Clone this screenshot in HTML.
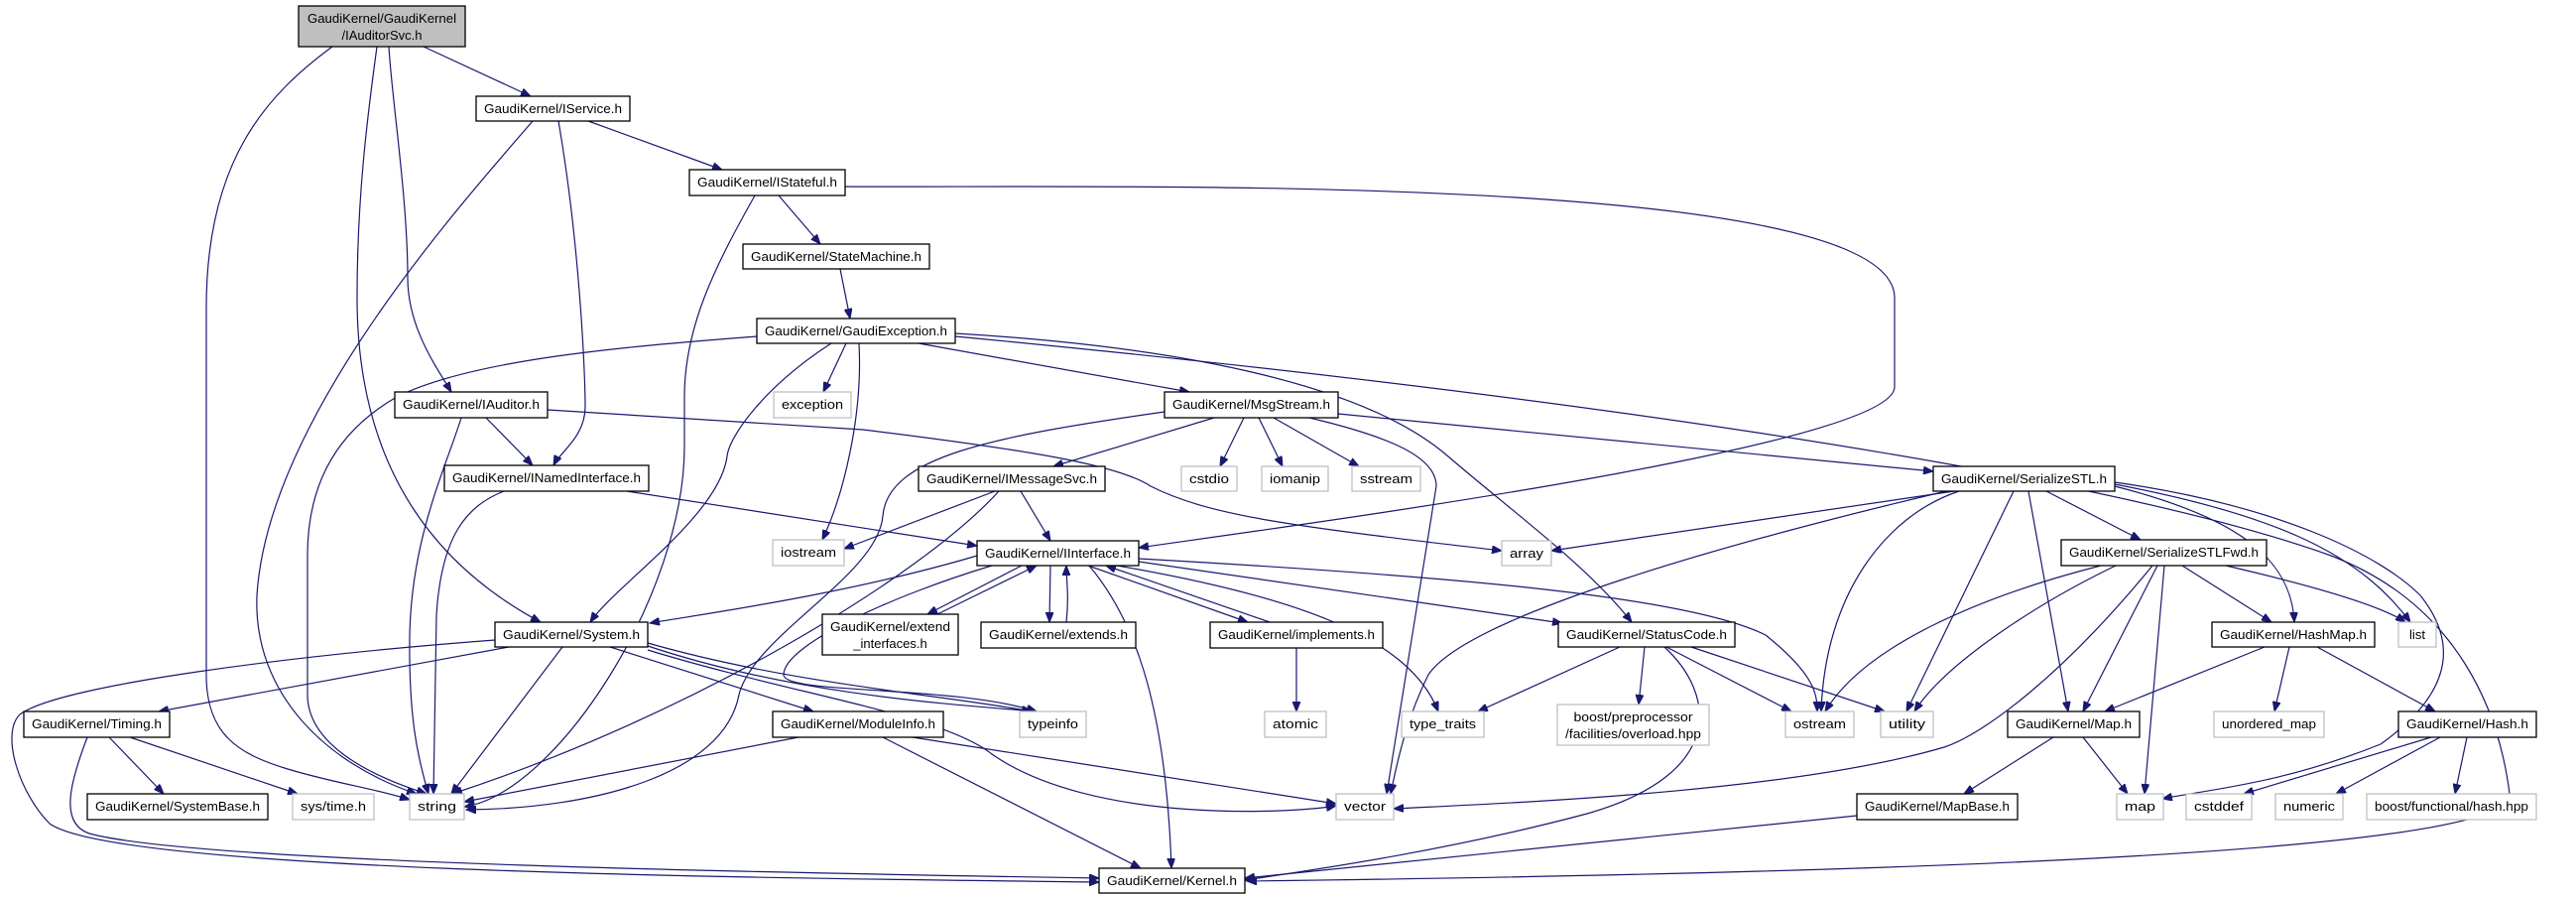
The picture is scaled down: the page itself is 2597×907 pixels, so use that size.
<!DOCTYPE html>
<html><head><meta charset="utf-8"><style>
html,body{margin:0;padding:0;background:#fff;}
svg{display:block;}
text{font-family:"Liberation Sans",sans-serif;font-size:13px;fill:#000;}
.n{fill:#fff;stroke:#000;stroke-width:1.3;}
.g{fill:#fff;stroke:#bfbfbf;stroke-width:1.3;}
.r{fill:#bfbfbf;stroke:#000;stroke-width:1.3;}
.e path{fill:none;stroke:#191970;stroke-width:1.2;marker-end:url(#a);}
</style></head><body>
<svg width="2597" height="907" viewBox="0 0 2597 907" xmlns="http://www.w3.org/2000/svg">
<defs><marker id="a" markerUnits="userSpaceOnUse" markerWidth="11" markerHeight="8" refX="10" refY="4" orient="auto"><path d="M0,0 L10,4 L0,8 z" fill="#191970" stroke="#191970"/></marker></defs>
<g class="e">
<path d="M427,47 L535,97"/>
<path d="M392,47 C395,100 411,200 411,280 C411,330 440,370 455,395"/>
<path d="M380,47 C370,120 360,200 360,300 C360,450 420,560 545,627"/>
<path d="M335,47 C270,95 208,160 208,310 L208,680 C208,740 240,760 290,775 C340,790 380,795 413,806"/>
<path d="M593,122 L728,171"/>
<path d="M537,122 C470,200 270,420 259,600 C255,700 330,770 420,800"/>
<path d="M563,122 C585,250 590,380 590,410 C590,440 565,455 558,469"/>
<path d="M785,197 L827,246"/>
<path d="M761,197 C720,270 690,330 690,400 L690,450 C690,600 560,800 468,813"/>
<path d="M852,188 C1100,190 1910,170 1910,300 L1910,390 C1910,450 1300,530 1148,552"/>
<path d="M847,271 L857,321"/>
<path d="M763,339 C650,348 480,360 400,400 C330,440 310,500 310,560 L310,700 C310,760 400,790 430,800"/>
<path d="M838,346 C770,390 735,440 733,460 C725,520 620,590 595,627"/>
<path d="M853,346 L830,395"/>
<path d="M866,346 C870,420 850,500 829,544"/>
<path d="M926,346 L1199,395"/>
<path d="M963,336 C1200,350 1380,390 1460,460 C1530,520 1600,570 1645,627"/>
<path d="M963,339 C1500,390 2100,470 2350,560 C2480,610 2520,720 2530,800 C2540,860 1900,880 1257,888"/>
<path d="M490,421 L537,469"/>
<path d="M465,421 C450,470 415,540 413,640 C412,720 420,760 432,800"/>
<path d="M552,413 L870,433 C1050,455 1130,470 1160,490 C1220,520 1300,530 1514,555"/>
<path d="M508,495 C470,510 445,540 440,620 L437,800"/>
<path d="M632,495 L985,550"/>
<path d="M1224,421 L1062,470"/>
<path d="M1254,421 L1230,470"/>
<path d="M1269,421 L1293,470"/>
<path d="M1284,421 L1370,470"/>
<path d="M1174,415 C1000,440 895,460 890,520 C885,580 760,640 745,700 C730,780 600,815 470,816"/>
<path d="M1320,421 C1400,440 1448,460 1448,490 L1398,800"/>
<path d="M1349,417 L1949,475"/>
<path d="M1003,495 L851,553"/>
<path d="M1029,495 L1059,545"/>
<path d="M1007,495 C930,580 700,720 456,800"/>
<path d="M985,560 C850,600 700,620 655,628"/>
<path d="M1030,570 L935,619"/>
<path d="M945,619 L1045,570"/>
<path d="M1059,570 L1058,627"/>
<path d="M1075,627 C1078,600 1075,585 1075,570"/>
<path d="M1097,570 L1258,627"/>
<path d="M1280,627 L1115,570"/>
<path d="M1000,570 C900,600 790,650 790,680 C790,700 960,690 1045,717"/>
<path d="M1098,570 C1140,620 1175,700 1181,875"/>
<path d="M1126,570 C1300,600 1420,640 1450,717"/>
<path d="M1148,566 L1575,628"/>
<path d="M1148,563 C1450,580 1700,600 1780,640 C1830,680 1832,700 1832,717"/>
<path d="M1970,495 L1564,555"/>
<path d="M1962,495 C1750,545 1480,620 1440,680 C1420,720 1410,760 1402,800"/>
<path d="M1975,495 C1900,520 1840,600 1836,717"/>
<path d="M2030,495 L1922,717"/>
<path d="M2045,495 L2085,717"/>
<path d="M2063,495 L2158,544"/>
<path d="M2132,490 C2250,520 2310,560 2313,627"/>
<path d="M2132,488 C2300,520 2380,560 2430,627"/>
<path d="M2132,486 C2300,510 2400,560 2440,600 C2480,650 2470,700 2400,750 C2300,790 2230,795 2180,805"/>
<path d="M2118,570 C2000,600 1880,650 1840,717"/>
<path d="M2133,570 C2050,610 1960,670 1930,717"/>
<path d="M2170,570 C2080,680 2000,740 1960,753 C1800,800 1500,810 1405,815"/>
<path d="M2175,570 L2100,717"/>
<path d="M2182,570 L2162,800"/>
<path d="M2200,570 L2290,627"/>
<path d="M2244,570 C2330,590 2400,610 2425,627"/>
<path d="M499,645 C300,660 60,690 20,720 C0,740 20,800 50,830 C120,880 800,885 1108,889"/>
<path d="M513,652 L160,717"/>
<path d="M567,652 L455,800"/>
<path d="M615,652 L820,717"/>
<path d="M653,648 C800,690 950,700 1040,717"/>
<path d="M653,651 C800,700 960,710 1045,717"/>
<path d="M653,655 C800,700 950,720 1000,760 C1100,830 1300,820 1347,812"/>
<path d="M110,743 L165,800"/>
<path d="M131,743 L300,800"/>
<path d="M88,743 C70,790 60,830 90,840 C200,870 800,880 1108,885"/>
<path d="M805,743 L468,808"/>
<path d="M920,743 L1347,810"/>
<path d="M890,743 L1150,875"/>
<path d="M1307,653 L1307,717"/>
<path d="M1633,652 L1490,717"/>
<path d="M1658,652 L1652,710"/>
<path d="M1680,652 L1806,717"/>
<path d="M1705,652 L1900,717"/>
<path d="M1678,652 C1730,700 1740,780 1600,820 C1450,860 1300,880 1255,887"/>
<path d="M2283,652 L2122,717"/>
<path d="M2308,652 L2293,717"/>
<path d="M2336,652 L2455,717"/>
<path d="M2070,743 L1980,800"/>
<path d="M2100,743 L2145,800"/>
<path d="M1872,822 L1255,885"/>
<path d="M2451,743 L2262,800"/>
<path d="M2460,743 L2355,800"/>
<path d="M2487,743 L2475,800"/>
</g>
<g>
<rect class="r" x="301" y="6" width="168" height="41"/><text x="385" y="23" text-anchor="middle" textLength="150" lengthAdjust="spacingAndGlyphs">GaudiKernel/GaudiKernel</text><text x="385" y="40" text-anchor="middle">/IAuditorSvc.h</text>
<rect class="n" x="480" y="97" width="155" height="25"/><text x="557.5" y="114" text-anchor="middle" textLength="139" lengthAdjust="spacingAndGlyphs">GaudiKernel/IService.h</text>
<rect class="n" x="695" y="171" width="157" height="26"/><text x="773.5" y="188" text-anchor="middle" textLength="141" lengthAdjust="spacingAndGlyphs">GaudiKernel/IStateful.h</text>
<rect class="n" x="749" y="246" width="188" height="25"/><text x="843" y="263" text-anchor="middle" textLength="172" lengthAdjust="spacingAndGlyphs">GaudiKernel/StateMachine.h</text>
<rect class="n" x="763" y="321" width="200" height="25"/><text x="863" y="338" text-anchor="middle" textLength="184" lengthAdjust="spacingAndGlyphs">GaudiKernel/GaudiException.h</text>
<rect class="g" x="780" y="395" width="78" height="26"/><text x="819" y="412" text-anchor="middle" textLength="62" lengthAdjust="spacingAndGlyphs">exception</text>
<rect class="n" x="398" y="395" width="154" height="26"/><text x="475" y="412" text-anchor="middle" textLength="138" lengthAdjust="spacingAndGlyphs">GaudiKernel/IAuditor.h</text>
<rect class="n" x="1174" y="395" width="175" height="26"/><text x="1261.5" y="412" text-anchor="middle" textLength="159" lengthAdjust="spacingAndGlyphs">GaudiKernel/MsgStream.h</text>
<rect class="n" x="926" y="470" width="188" height="25"/><text x="1020" y="487" text-anchor="middle" textLength="172" lengthAdjust="spacingAndGlyphs">GaudiKernel/IMessageSvc.h</text>
<rect class="g" x="1191" y="470" width="56" height="25"/><text x="1219" y="487" text-anchor="middle" textLength="40" lengthAdjust="spacingAndGlyphs">cstdio</text>
<rect class="g" x="1272" y="470" width="67" height="25"/><text x="1305.5" y="487" text-anchor="middle" textLength="51" lengthAdjust="spacingAndGlyphs">iomanip</text>
<rect class="g" x="1363" y="470" width="69" height="25"/><text x="1397.5" y="487" text-anchor="middle" textLength="53" lengthAdjust="spacingAndGlyphs">sstream</text>
<rect class="n" x="448" y="469" width="206" height="26"/><text x="551" y="486" text-anchor="middle" textLength="190" lengthAdjust="spacingAndGlyphs">GaudiKernel/INamedInterface.h</text>
<rect class="n" x="1949" y="470" width="183" height="25"/><text x="2040.5" y="487" text-anchor="middle" textLength="167" lengthAdjust="spacingAndGlyphs">GaudiKernel/SerializeSTL.h</text>
<rect class="n" x="985" y="545" width="163" height="25"/><text x="1066.5" y="562" text-anchor="middle" textLength="147" lengthAdjust="spacingAndGlyphs">GaudiKernel/IInterface.h</text>
<rect class="g" x="779" y="544" width="72" height="26"/><text x="815" y="561" text-anchor="middle" textLength="56" lengthAdjust="spacingAndGlyphs">iostream</text>
<rect class="g" x="1514" y="545" width="50" height="25"/><text x="1539" y="562" text-anchor="middle" textLength="34" lengthAdjust="spacingAndGlyphs">array</text>
<rect class="n" x="2078" y="544" width="207" height="26"/><text x="2181.5" y="561" text-anchor="middle" textLength="191" lengthAdjust="spacingAndGlyphs">GaudiKernel/SerializeSTLFwd.h</text>
<rect class="n" x="499" y="627" width="154" height="25"/><text x="576" y="644" text-anchor="middle" textLength="138" lengthAdjust="spacingAndGlyphs">GaudiKernel/System.h</text>
<rect class="n" x="829" y="619" width="137" height="41"/><text x="897.5" y="636" text-anchor="middle" textLength="121" lengthAdjust="spacingAndGlyphs">GaudiKernel/extend</text><text x="897.5" y="653" text-anchor="middle">_interfaces.h</text>
<rect class="n" x="989" y="627" width="156" height="26"/><text x="1067" y="644" text-anchor="middle" textLength="140" lengthAdjust="spacingAndGlyphs">GaudiKernel/extends.h</text>
<rect class="n" x="1220" y="627" width="174" height="26"/><text x="1307" y="644" text-anchor="middle" textLength="158" lengthAdjust="spacingAndGlyphs">GaudiKernel/implements.h</text>
<rect class="n" x="1571" y="627" width="178" height="25"/><text x="1660" y="644" text-anchor="middle" textLength="162" lengthAdjust="spacingAndGlyphs">GaudiKernel/StatusCode.h</text>
<rect class="n" x="2230" y="627" width="164" height="25"/><text x="2312" y="644" text-anchor="middle" textLength="148" lengthAdjust="spacingAndGlyphs">GaudiKernel/HashMap.h</text>
<rect class="g" x="2418" y="627" width="38" height="25"/><text x="2437" y="644" text-anchor="middle">list</text>
<rect class="n" x="24" y="717" width="147" height="26"/><text x="97.5" y="734" text-anchor="middle" textLength="131" lengthAdjust="spacingAndGlyphs">GaudiKernel/Timing.h</text>
<rect class="n" x="779" y="717" width="172" height="26"/><text x="865" y="734" text-anchor="middle" textLength="156" lengthAdjust="spacingAndGlyphs">GaudiKernel/ModuleInfo.h</text>
<rect class="g" x="1028" y="717" width="67" height="26"/><text x="1061.5" y="734" text-anchor="middle" textLength="51" lengthAdjust="spacingAndGlyphs">typeinfo</text>
<rect class="g" x="1275" y="717" width="62" height="26"/><text x="1306" y="734" text-anchor="middle" textLength="46" lengthAdjust="spacingAndGlyphs">atomic</text>
<rect class="g" x="1413" y="717" width="83" height="26"/><text x="1454.5" y="734" text-anchor="middle" textLength="67" lengthAdjust="spacingAndGlyphs">type_traits</text>
<rect class="g" x="1570" y="710" width="153" height="41"/><text x="1646.5" y="727" text-anchor="middle" textLength="120" lengthAdjust="spacingAndGlyphs">boost/preprocessor</text><text x="1646.5" y="744" text-anchor="middle" textLength="137" lengthAdjust="spacingAndGlyphs">/facilities/overload.hpp</text>
<rect class="g" x="1800" y="717" width="69" height="26"/><text x="1834.5" y="734" text-anchor="middle" textLength="53" lengthAdjust="spacingAndGlyphs">ostream</text>
<rect class="g" x="1896" y="717" width="53" height="26"/><text x="1922.5" y="734" text-anchor="middle" textLength="37" lengthAdjust="spacingAndGlyphs">utility</text>
<rect class="n" x="2024" y="717" width="133" height="26"/><text x="2090.5" y="734" text-anchor="middle" textLength="117" lengthAdjust="spacingAndGlyphs">GaudiKernel/Map.h</text>
<rect class="g" x="2232" y="717" width="111" height="26"/><text x="2287.5" y="734" text-anchor="middle" textLength="95" lengthAdjust="spacingAndGlyphs">unordered_map</text>
<rect class="n" x="2418" y="717" width="139" height="26"/><text x="2487.5" y="734" text-anchor="middle" textLength="123" lengthAdjust="spacingAndGlyphs">GaudiKernel/Hash.h</text>
<rect class="n" x="88" y="800" width="182" height="26"/><text x="179" y="817" text-anchor="middle" textLength="166" lengthAdjust="spacingAndGlyphs">GaudiKernel/SystemBase.h</text>
<rect class="g" x="295" y="800" width="82" height="26"/><text x="336" y="817" text-anchor="middle" textLength="66" lengthAdjust="spacingAndGlyphs">sys/time.h</text>
<rect class="g" x="413" y="800" width="55" height="26"/><text x="440.5" y="817" text-anchor="middle" textLength="39" lengthAdjust="spacingAndGlyphs">string</text>
<rect class="g" x="1347" y="800" width="58" height="26"/><text x="1376" y="817" text-anchor="middle" textLength="42" lengthAdjust="spacingAndGlyphs">vector</text>
<rect class="n" x="1872" y="800" width="162" height="26"/><text x="1953" y="817" text-anchor="middle" textLength="146" lengthAdjust="spacingAndGlyphs">GaudiKernel/MapBase.h</text>
<rect class="g" x="2134" y="800" width="47" height="26"/><text x="2157.5" y="817" text-anchor="middle" textLength="31" lengthAdjust="spacingAndGlyphs">map</text>
<rect class="g" x="2204" y="800" width="66" height="26"/><text x="2237" y="817" text-anchor="middle" textLength="50" lengthAdjust="spacingAndGlyphs">cstddef</text>
<rect class="g" x="2294" y="800" width="68" height="26"/><text x="2328" y="817" text-anchor="middle" textLength="52" lengthAdjust="spacingAndGlyphs">numeric</text>
<rect class="g" x="2386" y="800" width="171" height="26"/><text x="2471.5" y="817" text-anchor="middle" textLength="155" lengthAdjust="spacingAndGlyphs">boost/functional/hash.hpp</text>
<rect class="n" x="1108" y="875" width="147" height="25"/><text x="1181.5" y="892" text-anchor="middle" textLength="131" lengthAdjust="spacingAndGlyphs">GaudiKernel/Kernel.h</text>
</g>
</svg>
</body></html>
